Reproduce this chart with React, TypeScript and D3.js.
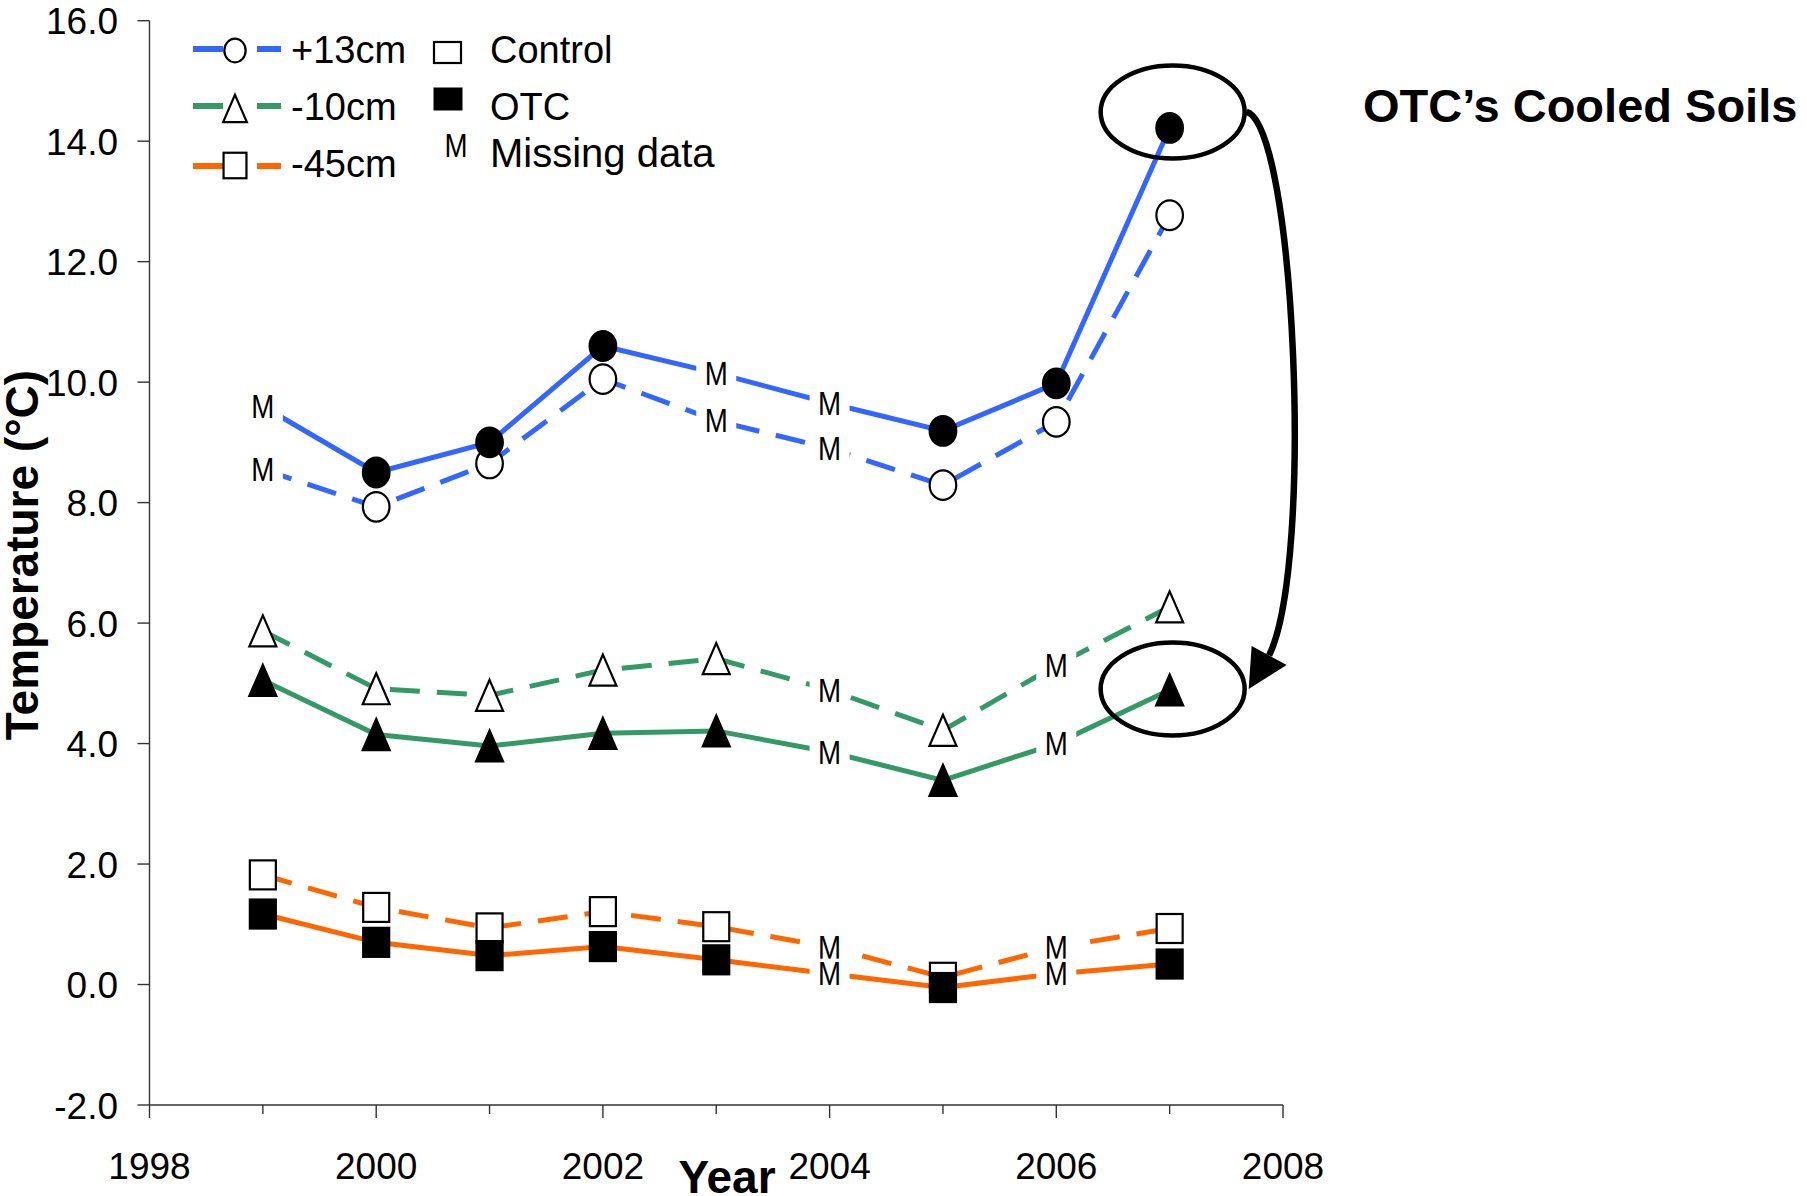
import React from 'react';
import * as d3 from 'd3';

// Mean soil / air temperature per year (°C), Control vs OTC plots
const years = [1999, 2000, 2001, 2002, 2003, 2004, 2005, 2006, 2007];
const plus13Control = [8.55, 7.93, 8.65, 10.05, 9.36, 8.9, 8.29, 9.34, 12.77];
const plus13OTC = [9.6, 8.5, 9.0, 10.6, 10.15, 9.65, 9.19, 9.98, 14.22];
const minus10Control = [5.87, 4.91, 4.8, 5.22, 5.41, 4.89, 4.22, 5.3, 6.27];
const minus10OTC = [5.05, 4.15, 3.96, 4.17, 4.21, 3.86, 3.39, 4.0, 4.89];
const minus45Control = [1.82, 1.28, 0.94, 1.21, 0.96, 0.62, 0.12, 0.62, 0.93];
const minus45OTC = [1.17, 0.7, 0.48, 0.63, 0.41, 0.18, -0.05, 0.18, 0.34];

// Years without a measurement at each depth (plotted as "M")
const missing13 = [1999, 2003, 2004];
const missing10 = [2004, 2006];
const missing45 = [2004, 2006];

const depthLabels = ['+13cm', '-10cm', '-45cm'];
const depthColors = ['#3366FF', '#339966', '#FF6600'];
const depthShapes = ['circle', 'triangle', 'square'];
const treatmentLabels = ['Control', 'OTC', 'Missing data'];

const yTicks = [-2, 0, 2, 4, 6, 8, 10, 12, 14, 16];
const xTicks = [1998, 2000, 2002, 2004, 2006, 2008];
const xMinorTicks = [1999, 2001, 2003, 2005, 2007];

const W = 1807;
const H = 1196;
const FONT = '"Liberation Sans", Arial, Helvetica, sans-serif';

const x = d3.scaleLinear().domain([1998, 2008]).range([149.5, 1283]);
const y = d3.scaleLinear().domain([-2, 16]).range([1105, 20.7]);

type Shape = 'circle' | 'triangle' | 'square';

const depthSeries = [
  { control: plus13Control, otc: plus13OTC, missing: missing13 },
  { control: minus10Control, otc: minus10OTC, missing: missing10 },
  { control: minus45Control, otc: minus45OTC, missing: missing45 },
].map((d, i) => ({
  ...d,
  label: depthLabels[i],
  color: depthColors[i],
  shape: depthShapes[i] as Shape,
}));

function Marker({ shape, cx, cy, filled, scale = 1 }: { shape: Shape; cx: number; cy: number; filled: boolean; scale?: number }) {
  const fill = filled ? '#000' : '#fff';
  const stroke = '#000';
  const sw = 2.2;
  if (shape === 'circle') {
    return <ellipse cx={cx} cy={cy} rx={13.3 * scale} ry={14.8 * scale} fill={fill} stroke={stroke} strokeWidth={sw} />;
  }
  if (shape === 'triangle') {
    const hw = 13.5 * scale;
    const hh = 15.5 * scale;
    return (
      <polygon
        points={`${cx},${cy - hh} ${cx + hw},${cy + hh} ${cx - hw},${cy + hh}`}
        fill={fill}
        stroke={stroke}
        strokeWidth={sw}
        strokeLinejoin="miter"
      />
    );
  }
  const w = 26 * scale;
  const h = 29 * scale;
  return <rect x={cx - w / 2} y={cy - h / 2} width={w} height={h} fill={fill} stroke={stroke} strokeWidth={sw} />;
}

// "M" placed where a missing value sits on the line, with a white backing
function MissingLabel({ cx, cy, size = 33 }: { cx: number; cy: number; size?: number }) {
  return (
    <g>
      <rect x={cx - 20} y={cy - 15} width={40} height={30} fill="#fff" />
      <text
        transform={`translate(${cx}, ${cy + size * 0.355}) scale(0.84, 1)`}
        textAnchor="middle"
        fontFamily={FONT}
        fontSize={size}
        fill="#000"
      >
        M
      </text>
    </g>
  );
}

export default function App() {
  const line = d3
    .line<number>()
    .x((_, i) => x(years[i]))
    .y((v) => y(v));

  // Highlight ellipses around the 2007 OTC values and the connecting arrow
  const ex = x(2007) + 3;
  const erx = 72;
  const ery = 46.5;
  const topCy = y(plus13OTC[8]) - 16;
  const botCy = y(minus10OTC[8]) - 1;
  const start = [ex + erx + 2, topCy];
  const tip = [ex + erx + 4, botCy];
  const headA = [tip[0] + 3, tip[1] - 43];
  const headB = [tip[0] + 38, tip[1] - 24];
  const baseMid = [(headA[0] + headB[0]) / 2, (headA[1] + headB[1]) / 2];
  const arrowPath = `M${start[0]},${start[1]} C${start[0] + 48},${start[1] + 13} ${start[0] + 68},${botCy - 128} ${baseMid[0]},${baseMid[1]}`;

  return (
    <svg width={W} height={H} viewBox={`0 0 ${W} ${H}`} style={{ position: 'absolute', left: 0, top: 0, background: '#fff' }}>
      <rect x={0} y={0} width={W} height={H} fill="#fff" />

      {/* Axes */}
      <g stroke="#333" strokeWidth={1.4}>
        <line x1={x(1998)} x2={x(1998)} y1={y(16)} y2={y(-2)} />
        <line x1={x(1998)} x2={x(2008)} y1={y(-2)} y2={y(-2)} />
        {yTicks.map((t) => (
          <line key={`yt${t}`} x1={x(1998) - 12} x2={x(1998)} y1={y(t)} y2={y(t)} />
        ))}
        {xTicks.map((t) => (
          <line key={`xt${t}`} x1={x(t)} x2={x(t)} y1={y(-2)} y2={y(-2) + 13} />
        ))}
        {xMinorTicks.map((t) => (
          <line key={`xm${t}`} x1={x(t)} x2={x(t)} y1={y(-2)} y2={y(-2) + 9} />
        ))}
      </g>
      <g fontFamily={FONT} fontSize={37} fill="#000">
        {yTicks.map((t) => (
          <text key={`yl${t}`} x={118} y={y(t) + 13.5} textAnchor="end">
            {t.toFixed(1)}
          </text>
        ))}
        {xTicks.map((t) => (
          <text key={`xl${t}`} x={x(t)} y={1179} textAnchor="middle">
            {t}
          </text>
        ))}
      </g>

      {/* Series lines */}
      {depthSeries.map((s) => (
        <g key={`lines${s.label}`} fill="none" stroke={s.color} strokeWidth={5}>
          <path d={line(s.control) || ''} strokeDasharray="30 17" />
          <path d={line(s.otc) || ''} />
        </g>
      ))}

      {/* Missing data labels */}
      {depthSeries.map((s) =>
        s.missing.map((yr) => {
          const i = years.indexOf(yr);
          return (
            <g key={`m${s.label}${yr}`}>
              <MissingLabel cx={x(yr)} cy={y(s.control[i])} />
              <MissingLabel cx={x(yr)} cy={y(s.otc[i])} />
            </g>
          );
        })
      )}

      {/* Markers: Control open, OTC filled */}
      {depthSeries.map((s) => (
        <g key={`mk${s.label}`}>
          {years.map((yr, i) =>
            s.missing.includes(yr) ? null : (
              <Marker key={`c${yr}`} shape={s.shape} cx={x(yr)} cy={y(s.control[i])} filled={false} />
            )
          )}
          {years.map((yr, i) =>
            s.missing.includes(yr) ? null : (
              <Marker key={`o${yr}`} shape={s.shape} cx={x(yr)} cy={y(s.otc[i])} filled={true} />
            )
          )}
        </g>
      ))}

      {/* Annotation */}
      <g fill="none" stroke="#000">
        <ellipse cx={ex} cy={topCy} rx={erx} ry={ery} strokeWidth={4.5} />
        <ellipse cx={ex} cy={botCy} rx={erx} ry={ery} strokeWidth={4.5} />
        <path d={arrowPath} strokeWidth={6.5} />
      </g>
      <polygon points={`${tip[0]},${tip[1]} ${headA[0]},${headA[1]} ${headB[0]},${headB[1]}`} fill="#000" />
      <text x={1363} y={122} fontFamily={FONT} fontSize={47} fontWeight="bold" fill="#000">
        OTC’s Cooled Soils
      </text>

      {/* Legend: depths */}
      {depthSeries.map((s, i) => {
        const ly = [49, 106, 166][i];
        const my = [50.5, 108.5, 165.5][i];
        const ty = [63, 120, 177][i];
        return (
          <g key={`leg${s.label}`}>
            <line x1={193} x2={223} y1={ly} y2={ly} stroke={s.color} strokeWidth={6} />
            <line x1={257} x2={281} y1={ly} y2={ly} stroke={s.color} strokeWidth={6} />
            <Marker shape={s.shape} cx={235} cy={my} filled={false} scale={s.shape === 'circle' ? 0.8 : 0.88} />
            <text x={291} y={ty} fontFamily={FONT} fontSize={38} fill="#000">
              {s.label}
            </text>
          </g>
        );
      })}
      {/* Legend: treatments */}
      <rect x={434} y={42} width={27} height={21} fill="#fff" stroke="#000" strokeWidth={2.2} />
      <rect x={434} y={88} width={28} height={22} fill="#000" stroke="#000" strokeWidth={1} />
      <text transform="translate(456, 157) scale(0.84, 1)" textAnchor="middle" fontFamily={FONT} fontSize={33} fill="#000">
        M
      </text>
      {treatmentLabels.map((t, i) => (
        <text key={t} x={490} y={[63, 120, 167][i]} fontFamily={FONT} fontSize={i === 2 ? 40 : 38} fill="#000">
          {t}
        </text>
      ))}

      {/* Axis titles */}
      <text
        transform={`translate(38, 555) rotate(-90)`}
        textAnchor="middle"
        fontFamily={FONT}
        fontSize={46}
        fontWeight="bold"
        fill="#000"
      >
        Temperature (°C)
      </text>
      <text x={727} y={1193} textAnchor="middle" fontFamily={FONT} fontSize={46} fontWeight="bold" fill="#000">
        Year
      </text>
    </svg>
  );
}
